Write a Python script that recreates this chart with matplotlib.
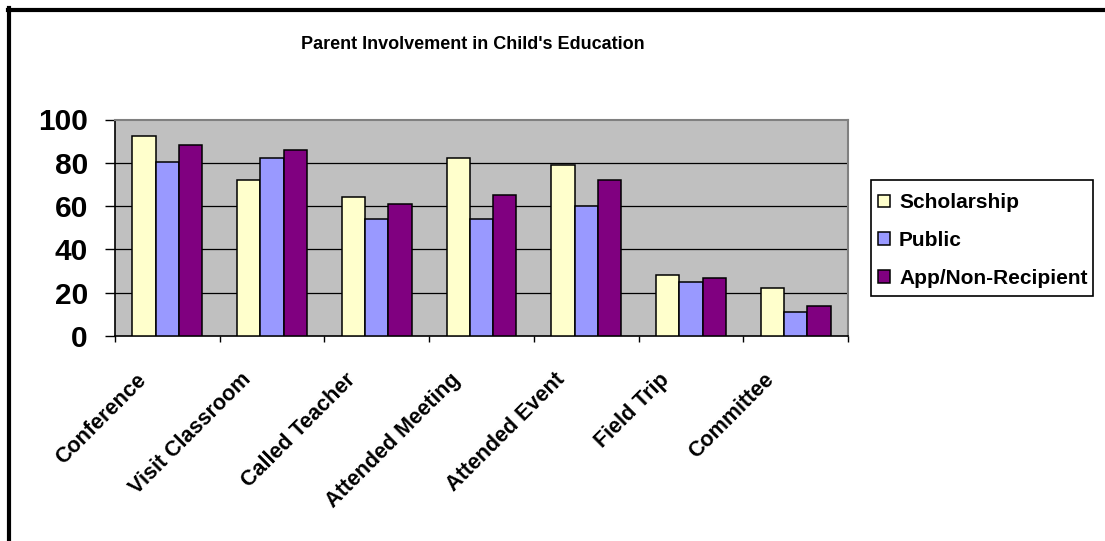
import matplotlib
matplotlib.use("Agg")
import matplotlib.pyplot as plt
import matplotlib.transforms as mtransforms
from matplotlib.lines import Line2D
from matplotlib.patches import Rectangle
import numpy as np

plt.rcParams['font.family'] = ['Liberation Sans', 'DejaVu Sans']
plt.rcParams['font.weight'] = 'bold'

title = "Parent Involvement in Child's Education"
categories = ["Conference", "Visit Classroom", "Called Teacher", "Attended Meeting",
              "Attended Event", "Field Trip", "Committee"]
series_names = ["Scholarship", "Public", "App/Non-Recipient"]
scholarship = [92.5, 72, 64, 82, 79, 28, 22]
public = [80.5, 82, 54, 54, 60, 25, 11]
app_non = [88, 86, 61, 65, 72, 27, 14]
yticks = [0, 20, 40, 60, 80, 100]

colors = ["#FFFFCC", "#9999FF", "#800080"]

W, H = 1105, 541
fig = plt.figure(figsize=(W / 100, H / 100), dpi=100)
fig.patch.set_facecolor("white")

left, right, top, bottom = 115, 848, 119.5, 336
ax = fig.add_axes([left / W, 1 - bottom / H, (right - left) / W, (bottom - top) / H])
ax.set_facecolor("#C0C0C0")

x = np.arange(len(categories))
bw = 1 / 4.5
for i, (vals, name, c) in enumerate(zip([scholarship, public, app_non], series_names, colors)):
    ax.bar(x + (i - 1) * bw, vals, width=bw, color=c, edgecolor="black",
           linewidth=1.1, label=name, zorder=3)

ax.set_xlim(-0.5, len(categories) - 0.5)
ax.set_ylim(0, 100)
ax.set_yticks(yticks)
ax.set_yticklabels([str(v) for v in yticks], fontsize=21.5, fontweight='bold')
for v in yticks[1:-1]:
    ax.axhline(v, color="black", linewidth=0.9, zorder=1)

ax.tick_params(axis='y', direction='out', length=7.5, width=1, pad=12, color='black')
ax.set_xticks(x)
ax.set_xticklabels(categories, rotation=45, ha='right', va='top', fontsize=15.5, fontweight='bold')
ax.set_xticks(np.arange(-0.5, len(categories)), minor=True)
ax.tick_params(axis='x', which='major', length=0, pad=24)
ax.tick_params(axis='x', which='minor', direction='out', length=4.5, width=1, color='black')

offset = mtransforms.ScaledTranslation(-17 / 100, 0, fig.dpi_scale_trans)
for lab in ax.get_xticklabels():
    lab.set_transform(lab.get_transform() + offset)

for s in ['left', 'bottom']:
    ax.spines[s].set_color('black')
    ax.spines[s].set_linewidth(1.2)
for s in ['top', 'right']:
    ax.spines[s].set_color('#808080')
    ax.spines[s].set_linewidth(1.5)

fig.text(473 / W, 1 - 45 / H, title, ha='center', va='center', fontsize=13, fontweight='bold')

# legend: frame drawn separately, entries from the bar handles
fig.add_artist(Rectangle((871 / W, 1 - 296 / H), (1093 - 871) / W, (296 - 180) / H,
                         transform=fig.transFigure, facecolor='white', edgecolor='black',
                         linewidth=1.2, zorder=4))
leg = fig.legend(loc='upper left', bbox_to_anchor=(871 / W, 1 - 186 / H),
                 bbox_transform=fig.transFigure, frameon=False,
                 borderaxespad=0, prop={'size': 15, 'weight': 'bold'},
                 handlelength=0.55, handleheight=0.55, handletextpad=0.45,
                 labelspacing=0.9, borderpad=0.35)
leg.set_zorder(5)

# outer chart frame (top and left visible)
fig.add_artist(Line2D([8 / W, 1.0], [1 - 9.5 / H, 1 - 9.5 / H], transform=fig.transFigure,
                      color='black', linewidth=3))
fig.add_artist(Line2D([8.5 / W, 8.5 / W], [1 - 8 / H, 0.0], transform=fig.transFigure,
                      color='black', linewidth=3))

fig.savefig("out.png", dpi=100)
